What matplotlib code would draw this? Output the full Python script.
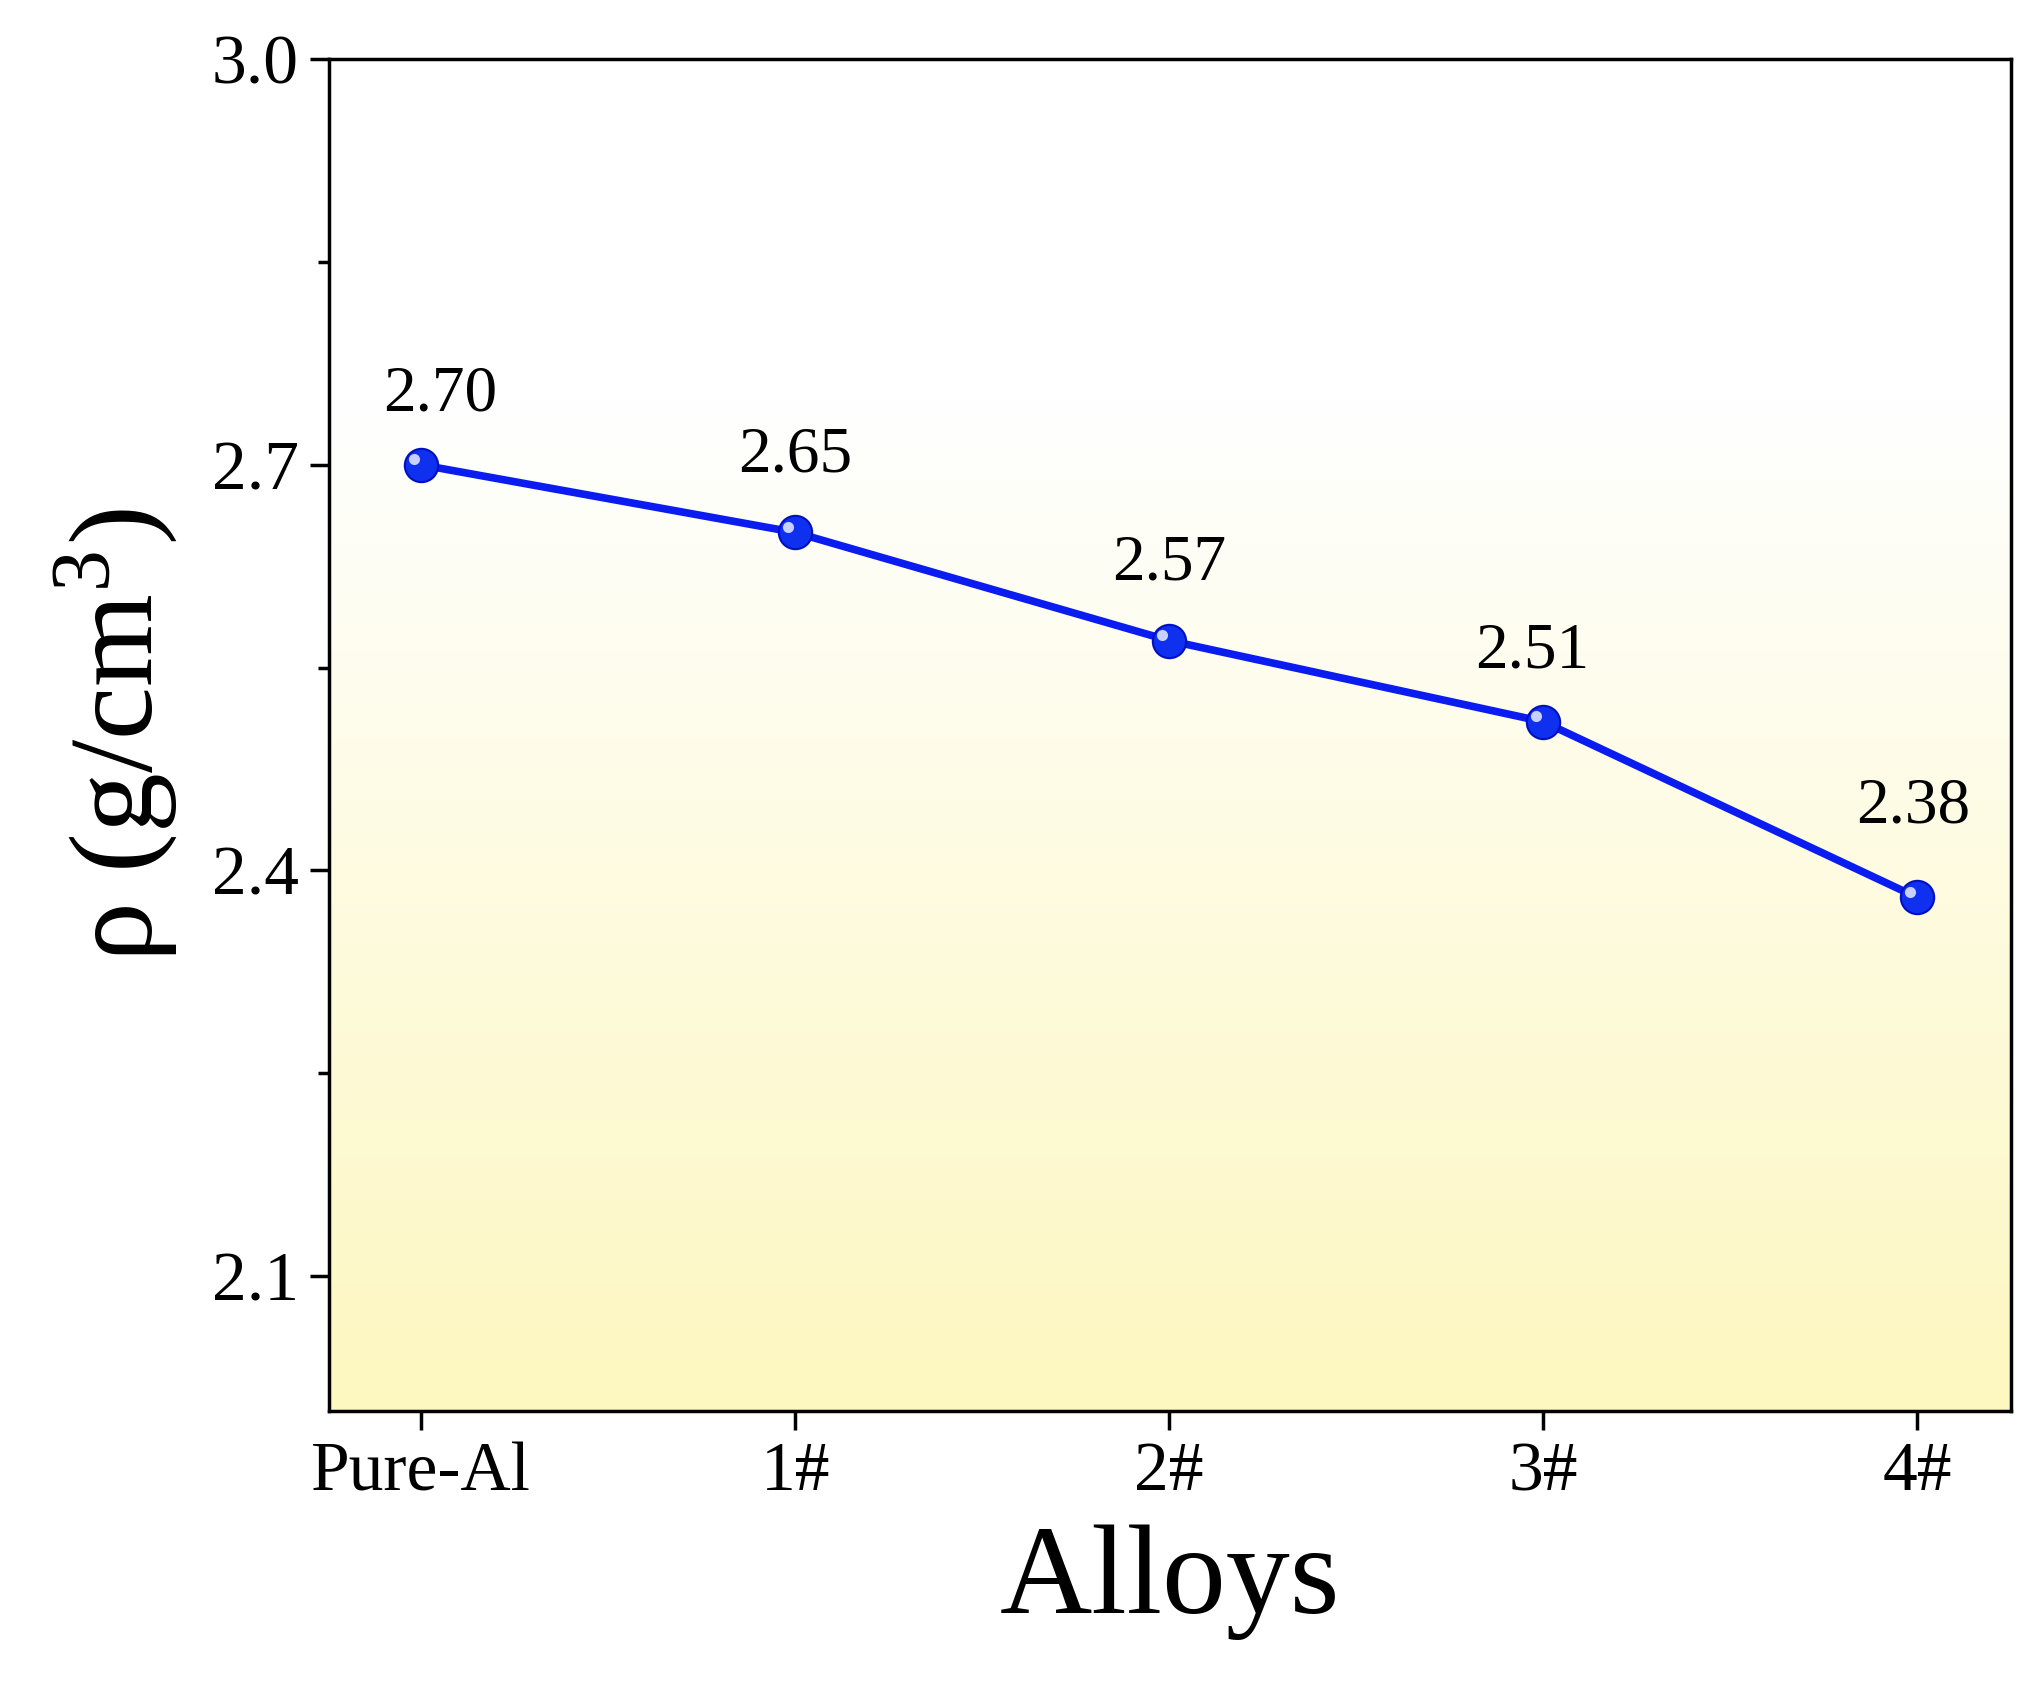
import numpy as np
import matplotlib
matplotlib.use("Agg")
import matplotlib.pyplot as plt
from matplotlib.colors import LinearSegmentedColormap

categories = ["Pure-Al", "1#", "2#", "3#", "4#"]
density = [2.70, 2.65, 2.57, 2.51, 2.38]
labels = ["2.70", "2.65", "2.57", "2.51", "2.38"]

plt.rcParams['font.family'] = ['Liberation Serif', 'DejaVu Serif']
plt.rcParams['mathtext.fontset'] = 'stix'
fig = plt.figure(figsize=(20.33, 16.96), dpi=100)
ax = fig.add_axes([0.162, 0.168, 0.827, 0.797])
x = np.arange(len(categories))
ax.set_xlim(-0.246, 4.25)
ax.set_ylim(2.0, 3.0)

cmap = LinearSegmentedColormap.from_list("g", ["#fdf7c0", "#ffffff"])
grad = np.linspace(0, 1, 256).reshape(-1, 1)
ax.imshow(grad, cmap=cmap, aspect='auto', origin='lower',
          extent=[-0.246, 4.25, 2.0, 2.75], zorder=0)

ax.plot(x, density, color='#0a1cf0', lw=5.5, zorder=2)
ax.plot(x, density, 'o', ms=24, color='#1030f0', mec='#0010c0', mew=1.5, zorder=3)
ax.plot(x - 0.02, np.array(density) + 0.004, 'o', ms=8, color='#c8d0ff', mew=0, zorder=4)
offsets = [(0.05, 0.03), (0.0, 0.035), (0.0, 0.035), (-0.03, 0.03), (-0.01, 0.045)]
for xi, yi, lab, (dx, dy) in zip(x, density, labels, offsets):
    ax.text(xi + dx, yi + dy, lab, ha='center', va='bottom', fontsize=47)

ax.set_xticks(x)
ax.set_xticklabels(categories)
ax.set_yticks([2.1, 2.4, 2.7, 3.0])
ax.set_yticks([2.25, 2.55, 2.85], minor=True)
ax.tick_params(axis='both', which='major', direction='out', length=14, width=2.5, labelsize=50, pad=8)
ax.tick_params(axis='y', which='minor', direction='out', length=8, width=2.5)
for s in ax.spines.values():
    s.set_linewidth(2.5)
ax.set_xlabel("Alloys", fontsize=92, labelpad=14)
ax.set_ylabel(r"ρ (g/cm$^\mathregular{3}$)", fontsize=86, labelpad=22)
fig.savefig("out.png", dpi=100)
